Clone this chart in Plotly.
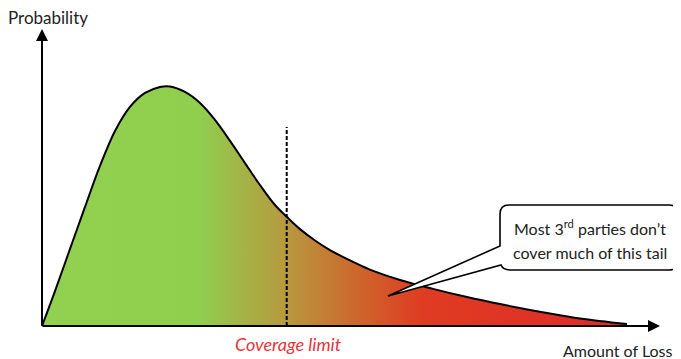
import plotly.graph_objects as go

# ---- data (x: amount of loss, arbitrary units 0-100; y: probability, peak ~ 1) ----
loss = [0, 2.22, 4.79, 7.35, 9.91, 12.48, 15.04, 17.61, 20.17, 21.88, 24.44, 27.01,
        29.57, 32.14, 34.70, 37.26, 39.83, 41.88, 44.10, 46.67, 49.23, 52.65, 56.07,
        61.20, 66.84, 72.65, 78.29, 86.32, 91.97, 100.0]
prob = [0, 0.145, 0.320, 0.494, 0.664, 0.809, 0.909, 0.967, 0.992, 0.994, 0.971, 0.925,
        0.855, 0.768, 0.676, 0.585, 0.502, 0.452, 0.402, 0.355, 0.315, 0.272, 0.234,
        0.191, 0.154, 0.120, 0.091, 0.054, 0.031, 0.008]
coverage_limit = 41.83
y_label = "Probability"
x_label = "Amount of Loss"
limit_label = "Coverage limit"
callout_lines = ["Most 3<sup>rd</sup> parties don’t", "cover much of this tail"]

W, H = 681, 359
OFF = 8  # default page body margin
FW, FH = W - OFF, H - OFF
# data <-> pixel mapping chosen so origin sits at (42, 326) px of the page
XU, YU = 5.85, 241.0
OX, OY = 42 - OFF, 326 - OFF
x_range = [-OX / XU, (FW - OX) / XU]
y_range = [-(FH - OY) / YU, OY / YU]

def dx(px):
    return (px - 42) / XU

def dy(py):
    return (326 - py) / YU

fig = go.Figure()
fig.add_trace(go.Scatter(
    x=loss, y=prob, mode="lines", line=dict(color="black", width=2, shape="spline", smoothing=1.0),
    fill="tozeroy",
    fillgradient=dict(type="horizontal", colorscale=[
        [0.0, "#92d050"], [0.27, "#90ce4e"], [0.42, "#b8983e"], [0.53, "#cc6a2e"],
        [0.65, "#df3c22"], [1.0, "#e02a28"]]),
    hoverinfo="skip", showlegend=False))

# dashed coverage limit line
fig.add_shape(type="line", x0=coverage_limit, x1=coverage_limit, y0=0, y1=dy(127),
              line=dict(color="black", width=2, dash="4px,2px"))

# callout bubble
pts = [("M", 509, 205), ("L", 669, 205), ("Q", 678, 205, 678, 214), ("L", 678, 261),
       ("Q", 678, 270, 669, 270), ("L", 511, 270), ("Q", 503, 270, 501, 265),
       ("L", 388, 296), ("L", 500, 246), ("L", 500, 214), ("Q", 500, 205, 509, 205)]
path = ""
for p in pts:
    cmd = p[0]
    coords = p[1:]
    s = []
    for i in range(0, len(coords), 2):
        s.append(f"{dx(coords[i]):.3f},{dy(coords[i+1]):.4f}")
    path += cmd + " ".join(s) + " "
path += "Z"
fig.add_shape(type="path", path=path, xref="x", yref="y", fillcolor="white",
              line=dict(color="black", width=1.6))

# axes with arrows
fig.add_annotation(x=0, y=dy(29), ax=0, ay=dy(327), xref="x", yref="y", axref="x", ayref="y",
                   showarrow=True, arrowhead=2, arrowsize=1.2, arrowwidth=2, arrowcolor="black", text="")
fig.add_annotation(x=dx(660), y=0, ax=dx(41), ay=0, xref="x", yref="y", axref="x", ayref="y",
                   showarrow=True, arrowhead=2, arrowsize=1.2, arrowwidth=2, arrowcolor="black", text="")

font = "Lato, 'Open Sans', sans-serif"
def label(text, px, py, size=14, color="#222222", italic=False):
    fig.add_annotation(x=(px - OFF) / FW, y=1 - (py - OFF) / FH, xref="paper", yref="paper",
                       text=text, showarrow=False, xanchor="center", yanchor="middle",
                       font=dict(family=font, size=size, color=color,
                                 style="italic" if italic else "normal"))

label(y_label, 48, 18, size=17)
label(x_label, 618, 350, size=16)
label(limit_label, 288, 344, size=18, color="#e8333a", italic=True)
label(callout_lines[0], 590, 228, size=16)
label(callout_lines[1], 590, 252, size=16)

fig.update_layout(width=FW, height=FH, margin=dict(l=0, r=0, t=0, b=0),
                  paper_bgcolor="white", plot_bgcolor="white",
                  xaxis=dict(range=x_range, visible=False, fixedrange=True),
                  yaxis=dict(range=y_range, visible=False, fixedrange=True))
fig.write_html("out.html")
